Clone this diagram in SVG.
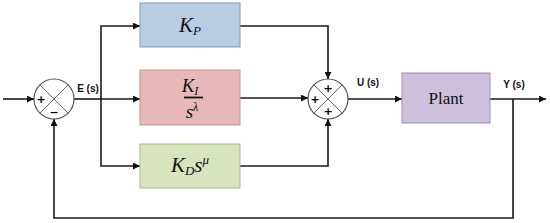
<svg xmlns="http://www.w3.org/2000/svg" width="550" height="223" viewBox="0 0 550 223">
<style>
.ln{fill:none;stroke:#1a1a1a;stroke-width:1.6}
.ar{marker-end:url(#ah)}
.sum{fill:#fff;stroke:#555;stroke-width:1.2}
.dg{stroke:#666;stroke-width:1}
.sg{font-family:"DejaVu Sans",sans-serif;font-weight:bold;font-size:11px;fill:#000;text-anchor:middle}
.lb{font-family:"Liberation Sans",Arial,sans-serif;font-weight:bold;font-size:10px;fill:#111;text-anchor:middle}
.mt{font-family:"Liberation Serif","Times New Roman",serif;font-style:italic;fill:#111;text-anchor:middle}
.pl{font-family:"Liberation Serif","Times New Roman",serif;font-size:17px;fill:#111;text-anchor:middle}
</style>
<defs>
<marker id="ah" viewBox="0 0 10 10" refX="10" refY="5" markerWidth="7" markerHeight="7" markerUnits="userSpaceOnUse" orient="auto">
<path d="M0,0 L10,5 L0,10 z" fill="#111"/>
</marker>
</defs>
<g id="connectors">
<line class="ln ar" x1="3" y1="99" x2="34" y2="99"/>
<polyline class="ln" points="74,99 101,99"/>
<polyline class="ln ar" points="101,99 140,99"/>
<polyline class="ln ar" points="101,99 101,26 140,26"/>
<polyline class="ln ar" points="101,99 101,166 140,166"/>
<polyline class="ln ar" points="240,26 328,26 328,79"/>
<polyline class="ln ar" points="240,98 308,98"/>
<polyline class="ln ar" points="240,166 328,166 328,119"/>
<line class="ln ar" x1="348" y1="99" x2="402" y2="99"/>
<line class="ln ar" x1="490" y1="99" x2="546" y2="99"/>
<polyline class="ln ar" points="513,99 513,218 54,218 54,119"/>
</g>
<g id="sum1">
<circle class="sum" cx="54" cy="99" r="20"/>
<line class="dg" x1="39.9" y1="84.9" x2="68.1" y2="113.1"/>
<line class="dg" x1="68.1" y1="84.9" x2="39.9" y2="113.1"/>
<text class="sg" x="41" y="103">+</text>
<text class="sg" x="54" y="116">−</text>
</g>
<g id="sum2">
<circle class="sum" cx="328" cy="99" r="20"/>
<line class="dg" x1="313.9" y1="84.9" x2="342.1" y2="113.1"/>
<line class="dg" x1="342.1" y1="84.9" x2="313.9" y2="113.1"/>
<text class="sg" x="328" y="92">+</text>
<text class="sg" x="315" y="103">+</text>
<text class="sg" x="328" y="115">+</text>
</g>
<g id="kp">
<rect x="140" y="3" width="100" height="44" fill="#b8cce4" stroke="#7f9cc6" stroke-width="1"/>
<text class="mt" x="190" y="32" font-size="21">K<tspan font-size="13" dy="3">P</tspan></text>
</g>
<g id="ki">
<rect x="140" y="70" width="100" height="55" fill="#e6b9b8" stroke="#c49391" stroke-width="1"/>
<text class="mt" x="190" y="92" font-size="19">K<tspan font-size="12" dy="3">I</tspan></text>
<line x1="184" y1="97.5" x2="203" y2="97.5" stroke="#111" stroke-width="1.8"/>
<text class="mt" x="192" y="118" font-size="19">s<tspan font-size="12" dy="-7">λ</tspan></text>
</g>
<g id="kd">
<rect x="140" y="144" width="100" height="44" fill="#d7e4bd" stroke="#a8bb8c" stroke-width="1"/>
<text class="mt" x="190" y="172" font-size="21">K<tspan font-size="13" dy="3">D</tspan><tspan dy="-3">s</tspan><tspan font-size="13" dy="-8">μ</tspan></text>
</g>
<g id="plant">
<rect x="402" y="73" width="88" height="50" fill="#ccc0da" stroke="#9c8bb8" stroke-width="1"/>
<text class="pl" x="446" y="104">Plant</text>
</g>
<g id="labels">
<text class="lb" x="88" y="92">E (s)</text>
<text class="lb" x="368" y="86">U (s)</text>
<text class="lb" x="514" y="88">Y (s)</text>
</g>
</svg>
